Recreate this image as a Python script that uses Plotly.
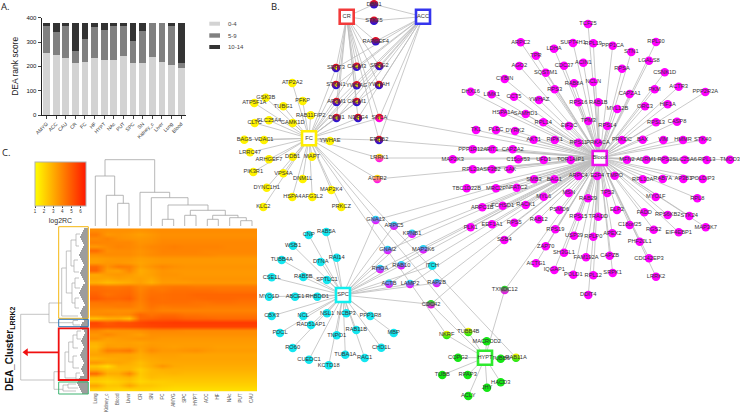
import plotly.graph_objects as go

W, H = 740, 413

# panel A
tissues = ['AMYG', 'ACC', 'CAU', 'CR', 'FC', 'HF', 'HYPT', 'NAc', 'PUT', 'SPC', 'SN', 'Kidney_c', 'Liver', 'Lung', 'Blood']
rank_low = [253, 247, 236, 215, 218, 233, 226, 225, 241, 214, 212, 238, 218, 205, 192]
rank_mid = [113, 93, 135, 47, 93, 129, 123, 141, 130, 90, 132, 141, 161, 159, 23]
rank_high = [13, 39, 8, 117, 68, 17, 30, 13, 8, 75, 35, 0, 0, 15, 164]
rank_names = ['0-4', '5-9', '10-14']

# panel C heatmap, one row per band of the picture
heat_cols = ['Lung', 'Kidney_c', 'Blood', 'Liver', 'CR', 'SN', 'FC', 'AMYG', 'SPC', 'HYPT', 'ACC', 'HF', 'NAc', 'PUT', 'CAU']
heat_rows = [
    [3.8, 3.7, 3.7, 3.7, 3.6, 3.7, 3.8, 3.8, 3.8, 3.8, 3.8, 3.8, 3.8, 3.8, 3.8],
    [4.2, 3.5, 3.6, 3.5, 3.3, 3.5, 3.7, 3.7, 3.7, 3.7, 3.7, 3.7, 3.7, 3.7, 3.7],
    [3.8, 4.0, 3.7, 3.6, 3.5, 3.6, 3.8, 3.8, 3.8, 3.8, 3.8, 3.8, 3.8, 3.8, 3.8],
    [4.0, 3.9, 3.9, 3.9, 3.6, 3.7, 3.9, 3.9, 3.9, 3.9, 3.9, 3.9, 3.9, 3.9, 3.9],
    [3.5, 3.8, 4.0, 3.9, 3.7, 3.9, 4.0, 4.1, 4.0, 4.0, 4.0, 4.0, 3.9, 3.9, 3.9],
    [4.6, 3.7, 3.8, 3.8, 3.6, 3.8, 4.0, 4.0, 4.0, 4.0, 3.9, 3.9, 3.9, 3.9, 3.9],
    [3.7, 3.8, 3.8, 3.8, 3.6, 3.8, 3.9, 3.9, 3.9, 3.9, 3.9, 3.8, 3.8, 3.8, 3.8],
    [3.3, 3.4, 3.5, 3.5, 3.3, 3.4, 3.5, 3.5, 3.5, 3.5, 3.5, 3.5, 3.5, 3.5, 3.5],
    [3.3, 3.5, 3.5, 3.4, 3.2, 3.4, 3.5, 3.5, 3.5, 3.5, 3.5, 3.5, 3.5, 3.5, 3.5],
    [4.6, 3.6, 4.2, 4.1, 3.3, 3.6, 3.9, 3.7, 3.6, 3.6, 3.6, 3.6, 3.6, 3.6, 3.6],
    [4.7, 3.3, 3.2, 3.9, 3.0, 3.3, 3.6, 3.5, 3.5, 3.5, 3.5, 3.5, 3.5, 3.5, 3.5],
    [3.1, 3.4, 3.5, 3.4, 3.1, 3.3, 3.6, 3.6, 3.5, 3.5, 3.5, 3.5, 3.5, 3.5, 3.5],
    [3.2, 3.1, 3.3, 3.2, 3.3, 3.1, 3.5, 3.5, 3.6, 3.6, 3.6, 3.6, 3.6, 3.6, 3.6],
    [2.9, 2.6, 2.8, 3.0, 3.3, 2.9, 3.4, 3.4, 3.4, 3.5, 3.5, 3.5, 3.5, 3.5, 3.5],
    [4.5, 4.3, 4.3, 4.4, 3.9, 4.1, 4.2, 4.3, 4.3, 4.2, 4.2, 4.2, 4.2, 4.2, 4.2],
    [4.6, 4.5, 4.5, 4.6, 4.0, 4.4, 4.3, 4.5, 4.5, 4.5, 4.5, 4.4, 4.4, 4.4, 4.4],
    [4.8, 4.4, 4.6, 4.7, 4.1, 4.5, 4.5, 4.6, 4.6, 4.7, 4.7, 4.7, 4.7, 4.7, 4.7],
    [5.0, 4.7, 4.7, 4.9, 4.1, 4.6, 4.5, 4.6, 4.6, 4.6, 4.7, 4.7, 4.7, 4.6, 4.6],
    [4.3, 4.4, 4.3, 4.4, 4.0, 4.5, 4.5, 4.5, 4.5, 4.4, 4.4, 4.5, 4.5, 4.4, 4.4],
    [4.1, 4.1, 4.2, 4.2, 3.9, 4.4, 4.2, 4.3, 4.3, 4.3, 4.2, 4.2, 4.2, 4.2, 4.2],
    [3.8, 3.7, 3.7, 3.7, 3.9, 4.2, 4.0, 4.0, 4.0, 4.0, 4.0, 4.0, 4.0, 4.0, 4.0],
    [3.8, 3.9, 3.8, 3.9, 4.7, 4.4, 4.6, 4.6, 4.4, 4.4, 4.3, 4.3, 4.3, 4.3, 4.3],
    [2.5, 2.9, 3.0, 2.5, 4.7, 4.8, 5.0, 5.0, 4.8, 4.7, 4.7, 4.6, 4.6, 4.6, 4.6],
    [5.5, 5.0, 5.3, 5.3, 5.5, 5.7, 5.7, 5.8, 5.8, 5.8, 5.8, 5.8, 5.8, 5.8, 5.8],
    [5.3, 5.2, 5.2, 5.3, 5.4, 5.5, 5.6, 5.6, 5.6, 5.6, 5.6, 5.6, 5.6, 5.6, 5.6],
    [3.9, 3.5, 3.6, 3.6, 3.7, 3.9, 3.9, 3.9, 3.8, 3.8, 3.8, 3.8, 3.8, 3.8, 3.8],
    [3.5, 3.9, 3.6, 3.5, 3.3, 3.7, 3.7, 3.7, 3.7, 3.7, 3.7, 3.7, 3.7, 3.7, 3.7],
    [3.7, 3.3, 3.4, 3.5, 3.6, 3.6, 3.5, 3.5, 3.5, 3.5, 3.5, 3.5, 3.5, 3.5, 3.5],
    [2.9, 3.2, 3.3, 3.3, 3.2, 3.4, 3.4, 3.4, 3.4, 3.4, 3.4, 3.4, 3.4, 3.4, 3.4],
    [2.7, 3.4, 3.3, 3.4, 3.3, 3.5, 3.4, 3.3, 3.4, 3.4, 3.4, 3.3, 3.3, 3.3, 3.3],
    [3.0, 4.1, 4.1, 4.3, 3.2, 3.8, 3.5, 3.5, 3.6, 3.7, 3.5, 3.4, 3.4, 3.4, 3.4],
    [3.2, 3.3, 3.2, 3.2, 3.0, 3.3, 3.3, 3.3, 3.2, 3.2, 3.2, 3.2, 3.2, 3.2, 3.2],
    [2.8, 3.0, 3.1, 3.2, 2.9, 3.1, 3.2, 3.2, 3.2, 3.2, 3.2, 3.2, 3.2, 3.2, 3.2],
    [3.5, 3.1, 3.2, 3.0, 2.6, 3.0, 3.1, 3.1, 3.1, 3.1, 3.1, 3.1, 3.1, 3.1, 3.1],
    [2.3, 1.8, 2.8, 2.8, 2.6, 3.0, 3.6, 3.1, 3.0, 3.0, 3.0, 3.0, 3.0, 3.0, 3.0],
    [3.0, 2.6, 2.7, 2.8, 2.2, 2.7, 2.9, 2.9, 2.9, 2.9, 2.9, 2.9, 2.9, 2.9, 2.9],
    [4.6, 3.0, 3.0, 3.9, 2.3, 2.7, 2.7, 2.8, 2.7, 2.7, 2.7, 2.7, 2.7, 2.7, 2.7],
    [2.6, 2.4, 2.6, 2.8, 2.2, 2.6, 2.5, 2.5, 2.5, 2.5, 2.5, 2.5, 2.5, 2.5, 2.5],
    [2.2, 2.0, 2.2, 2.5, 2.0, 2.2, 2.2, 2.3, 2.3, 2.3, 2.3, 2.3, 2.3, 2.3, 2.3],
    [3.2, 2.4, 2.4, 3.2, 2.4, 2.4, 2.2, 2.1, 2.1, 2.1, 2.1, 2.1, 2.1, 2.1, 2.1],
    [2.2, 2.1, 2.0, 2.0, 2.1, 2.0, 1.9, 1.8, 1.8, 1.8, 1.8, 1.8, 1.8, 1.8, 1.8],
]

# column dendrogram: left x, right x, top y, left foot y, right foot y
col_tree = [
    (117.7, 129, 203.3, 226, 226),
    (106.3, 123.3, 195.3, 226, 203.3),
    (95.3, 114.7, 176, 226, 195.3),
    (162.3, 173.7, 219.3, 226, 226),
    (184.7, 196, 215.3, 226, 226),
    (207.3, 218.3, 219.3, 226, 226),
    (240.7, 252, 220.7, 226, 226),
    (229.7, 246.3, 217.7, 226, 220.7),
    (212.7, 238, 215.3, 219.3, 217.7),
    (190.3, 225.3, 210.3, 215.3, 215.3),
    (168, 208, 205, 219.3, 210.3),
    (151.3, 188, 197.7, 226, 205),
    (140, 169.7, 192.3, 226, 197.7),
    (105, 154.7, 159.7, 176, 192.3),
]

# row dendrogram: parent x, upper y, upper x, lower y, lower x
row_tree = [
    (20.7, 314.3, 49, 380, 54),
    (49, 303, 61.7, 322.7, 73),
    (54, 371.7, 65, 389.3, 63),
    (61.7, 268, 66.3, 316, 78),
    (66.3, 251, 71, 293, 72),
    (71, 240, 76, 266, 74),
    (76, 234, 80, 246, 79),
    (74, 260, 78, 272, 79),
    (72, 283, 75, 303, 75),
    (75, 278, 79, 288, 80),
    (75, 298, 79, 308, 79),
    (73, 320.5, 78, 325, 80),
    (65, 352, 68.7, 378, 76),
    (68.7, 342, 73, 362, 73),
    (73, 335, 77, 348, 78),
    (77, 331, 81, 339, 81),
    (73, 356, 77, 368, 79),
    (76, 373, 80, 379, 82),
    (63, 385, 68, 391, 76),
    (68, 384, 76, 388, 78),
]
tip_start = [
    84, 83, 82, 81, 80, 81, 82, 83, 84, 83, 82, 81, 80, 79, 80, 81, 82, 83, 84, 83,
    82, 81, 80, 81, 82, 83, 84, 85, 83, 82, 81, 80, 79, 80, 81, 82, 83, 84, 85, 83,
    82, 81, 80, 81, 82, 83, 84, 82, 81, 80, 82, 84, 85, 84, 83, 82, 81, 82, 83, 84,
    83, 82, 81, 80, 81, 82, 83, 84, 83, 82, 81, 82, 83, 84, 80, 79, 78, 77, 78, 79,
    80, 81, 82,
]
tip_first_y, tip_step = 229, 2

# panel B hubs
hub_names = ['CR', 'ACC', 'FC', 'Blood', 'SPC', 'HYPT']
hub_x = [346.7, 423, 309, 599.7, 343, 485]
hub_y = [16.7, 16.7, 138.3, 158, 295, 357.7]

fc_names = ['ATP2A2', 'GSK3B', 'PFKP', 'ATP5F1A', 'TUBG1', 'RAB11FIP2', 'SLC25A4', 'CAMK1D', 'CLTC', 'BAG5', 'VDAC1', 'YWHAE',
            'LRRC47', 'ARHGEF7', 'DDB1', 'MAPT', 'PIK3R1', 'VPS4A', 'DNM1L', 'DYNC1H1', 'HSPA4', 'AFG3L2', 'MAP2K4', 'KLC2', 'PRKCZ']
fc_x = [292.3, 265.7, 302.7, 254.3, 283.3, 310.7, 269, 292.7, 254.7, 244.3, 264, 330,
        250, 269, 292.7, 312, 253.3, 283.3, 302.7, 266.7, 292.3, 312.3, 331.3, 263.3, 341.3]
fc_y = [83, 97.7, 101, 103, 106.3, 115.3, 120.3, 123, 123, 139.7, 140, 141,
        152.3, 159.3, 156.7, 156.7, 172, 173.3, 179, 187.7, 197, 197, 190, 207, 207]

blood_names = ['DHX16', 'LIMK1', 'HSPA1A', 'TK1', 'PLEC', 'DYRK2', 'PPP1R12A', 'RIT1', 'CAPZA2', 'MAP2K3', 'C15orf53', 'RPL23A', 'SF3B2', 'GAK',
               'TBC1D22B', 'MRC2P', 'NFATC2', 'SMB3', 'BAG1', 'ARPC1B', 'FCHSD1', 'RACK1', 'MYL6', 'PSMD6', 'RAB12', 'RPS19', 'PLK1', 'EEF1A1', 'RPS5',
               'SSB4', 'ZAP70', 'ACTG1', 'IQGAP1', 'SH3GL1', 'TCF25', 'ARPC2', 'LDHA', 'SUPT4H1', 'RPL19', 'PPP1CA', 'RPL30', 'STN1', 'TPR', 'CDC37',
               'ACIN1', 'LGALS8', 'AGO2', 'SQSTM1', 'RPSA', 'CSNK1D', 'CYBIN', 'RAB8A', 'NCLN', 'ACTR3', 'RPS3', 'PKM', 'CAPZA1', 'PPP2R2A', 'CCT5',
               'YWHAZ', 'RPS16', 'RAB1B', 'ORC3', 'HIF1A', 'MYL12B', 'SAMHD1', 'RPL14', 'TPM3', 'RPS14', 'RPS13', 'CASP8', 'EIF2C', 'AKT1', 'RIPK1',
               'RPS11', 'PRKACA', 'PRKDC', 'BAX', 'VIM', 'HMMR', 'STK40', 'UFD1', 'TOR1AIP1', 'MFN2', 'ADRM1', 'RPS2', 'SLC25A6', 'RPL13', 'TMOD3',
               'ARPC4', 'E2F4', 'TMPO', 'RPL10A', 'RAB7A', 'AP3B1', 'POLDIP3', 'MSN', 'RAB29', 'TP53', 'MYO1F', 'RPL8', 'ELP2', 'RPS15', 'TRADD',
               'FADD', 'RPS6KB2', 'STK24', 'MAP3K7', 'C18orf25', 'RGS2', 'EIF4EBP1', 'USP39', 'RPLP0', 'APEX2', 'PHF20L1', 'CAPZB', 'FAM192A',
               'CDC42EP3', 'SRPK1', 'POLD1', 'RPL12', 'LRRK2', 'DDIT4']
blood_x = [470.7, 491.7, 503.3, 476, 496, 515, 472.7, 492.3, 512.7, 452.7, 518.3, 472.7, 492, 510,
           466.7, 496, 516.7, 534, 554.3, 482.3, 502.7, 525.7, 543.7, 559.3, 538.7, 555.3, 470.7, 492, 514.3,
           504.3, 545.7, 536, 554.3, 564, 588, 520.7, 554, 573, 593.3, 612.7, 656, 631.3, 536, 564,
           583.3, 649, 519.3, 545.7, 622, 664.7, 504.7, 574, 593.3, 678.7, 554.7, 654.7, 629.7, 705.3, 514,
           539, 578.3, 598.3, 645, 667.7, 617.3, 525.7, 543.3, 588.3, 607.3, 656, 677, 569, 533.7, 554.7,
           578.3, 598, 622, 642.7, 663.3, 683, 702.7, 543.7, 570.7, 627, 646.3, 665, 684.7, 706.7, 730,
           578.3, 597.3, 614.7, 642.7, 662.7, 683.3, 702.7, 568.7, 588, 607.3, 655.7, 697.3, 617, 578.3, 598.3,
           644.3, 667.7, 689.3, 705.7, 629.7, 653.7, 678.7, 574, 593.3, 612.3, 639.7, 609.7, 586,
           649, 612.7, 573.3, 593.3, 656, 588.3]
blood_y = [91.7, 94.3, 112.7, 130, 130, 131, 149.3, 149.3, 149.3, 159.3, 159.3, 169.3, 169.3, 169.3,
           188.3, 188.3, 187.7, 179.3, 179.3, 207.3, 205.7, 205, 196.7, 210, 219.3, 229.3, 227.3, 224.3, 222.7,
           240, 246.3, 263.3, 270, 252.7, 24, 42.3, 48.7, 43, 43.3, 45.7, 42, 52, 55.7, 65.7,
           62.7, 60.7, 66, 72.7, 68.7, 72.3, 79, 83.3, 82, 86.7, 89.3, 89.3, 94, 92, 96.7,
           100, 102.3, 102.3, 106.3, 104.3, 109, 114, 122.3, 121, 126, 122.3, 121.7, 126, 139.7, 140,
           142.7, 142.7, 140, 139.7, 140, 140, 140, 160, 160, 159.7, 159.7, 159.7, 159.7, 160, 159.7,
           176, 176, 175.7, 179.3, 179, 179, 179, 193, 198.3, 193, 197, 198.3, 210, 216.7, 216.7,
           212.3, 215, 216, 227.3, 225, 229.7, 232.3, 235.7, 236.7, 233.3, 241.7, 255.7, 257.3,
           258.3, 273, 274.7, 275.3, 276.7, 295]

spc_names = ['CNP', 'RAB5A', 'WSB1', 'RAI14', 'DTNA', 'TUBB4A', 'CSE1L', 'RAB5B', 'SPTLC1', 'MYO1D', 'ABCE1', 'RHBDD1', 'CBX3', 'NCL',
             'NSL1', 'NCBP3', 'PPP1R8', 'RAD51AP1', 'RAB11B', 'TNPO1', 'MBP', 'PDCL', 'RO60', 'CHD1L', 'TUBA1A', 'RAC1', 'CUEDC1', 'KCTD18', 'ITCH']
spc_x = [308.7, 326.3, 293, 336.7, 320.7, 281.7, 271.7, 303.3, 327, 269, 295, 317.3, 271.7, 303.3,
         327, 346.3, 370.3, 311, 356.3, 336.7, 393.7, 280, 292.7, 381.3, 345.3, 364.7, 309, 328.7, 432.3]
spc_y = [235, 232, 245.7, 257.7, 262, 260, 277.3, 277, 280, 296.7, 296.7, 296.7, 316, 316,
         313.3, 313.3, 316, 325, 330, 335.3, 333, 333, 348, 347.7, 354.7, 358, 359.7, 365.3, 265.7]

hypt_names = ['MACROD2', 'COPG2', 'TUBB6', 'TUBB', 'RPAP3', 'HACD3', 'JHY', 'ACLY']
hypt_x = [486.7, 458, 500.7, 442.3, 467.7, 500.7, 487, 468.3]
hypt_y = [341.3, 357.7, 358.7, 375, 375, 382.3, 387.7, 396]

# genes seen in several tissues, hubs listed top colour first, bottom colour last
shared_names = ['DBN1', 'STK25', 'RAPGEF4', 'SEPT3', 'CALM3', 'SPAG2', 'STMN1', 'YWHAG', 'YWHAH', 'AP3M1', 'CALM1', 'DNM1', 'NDRG4',
                'SNCA', 'ERBB2', 'LRRK1', 'ACTR2', 'GNA13', 'ARPC5', 'KPNB1', 'MAP2K6', 'GNAI2', 'RHOA', 'RAB10', 'ACTB', 'LAMP2', 'RAP2B',
                'CDC42', 'NKRF', 'TUBB4B', 'RAB11A', 'TXNDC12']
shared_x = [374, 374, 375.7, 336, 356.7, 379.3, 336, 356.7, 379, 336.5, 356.7, 336.5, 358,
            379.3, 379, 379.3, 377.3, 375.7, 394, 412, 423.3, 387.7, 380, 401.3, 389, 410, 436.7,
            431, 446.7, 468.3, 516, 504.7]
shared_y = [4.3, 20.7, 41.3, 68, 66.7, 66, 85, 85.3, 85, 102, 102, 118, 118,
            118, 140, 158, 179, 220, 225.7, 233.7, 249.3, 250, 269, 265.3, 283.7, 284, 283,
            304.3, 335, 332, 357.7, 290]
shared_hubs = [['CR', 'ACC'], ['CR', 'ACC'], ['CR', 'ACC'],
               ['CR', 'FC', 'ACC'], ['CR', 'FC', 'ACC'], ['CR', 'FC', 'ACC'], ['CR', 'FC', 'ACC'], ['CR', 'FC', 'ACC'],
               ['CR', 'FC', 'ACC'], ['CR', 'FC', 'ACC'], ['CR', 'FC', 'ACC'], ['CR', 'FC', 'ACC'], ['CR', 'FC', 'ACC'],
               ['CR', 'ACC', 'FC', 'Blood'], ['CR', 'FC', 'Blood', 'ACC'], ['FC', 'Blood'], ['FC', 'Blood'],
               ['SPC', 'Blood'], ['SPC', 'Blood'], ['SPC', 'Blood'], ['SPC', 'Blood'], ['SPC', 'Blood'], ['SPC', 'Blood'],
               ['SPC', 'Blood'], ['SPC', 'Blood'], ['SPC', 'Blood'], ['SPC', 'Blood'],
               ['HYPT', 'SPC', 'Blood'], ['FC', 'HYPT'], ['FC', 'HYPT'], ['FC', 'HYPT'], ['HYPT', 'Blood']]

arrow_x = [58.7, 26]
arrow_y = [352.3, 352.3]

HUB_COLOR = {'CR': '#f23a3a', 'ACC': '#3535ee', 'FC': '#ffee00', 'Blood': '#ee11ee', 'SPC': '#11eeee', 'HYPT': '#2eea2e'}
NODE_COLOR = {'CR': '#f01010', 'ACC': '#1414e6', 'FC': '#fff200', 'Blood': '#ff00ff', 'SPC': '#14e6f0', 'HYPT': '#14e614'}
EDGE_COLOR = '#bcbcbc'
LABEL = dict(family='Liberation Sans', size=5.7, color='#333333')

hub_pos = dict(zip(hub_names, zip(hub_x, hub_y)))


def edges(xs, ys, hub_lists):
    ex, ey = [], []
    for x, y, hubs in zip(xs, ys, hub_lists):
        for h in hubs:
            ex += [x, hub_pos[h][0], None]
            ey += [y, hub_pos[h][1], None]
    return ex, ey


def overlay_line(xs, ys, color, width):
    return go.Scatter(x=xs, y=ys, mode='lines', line=dict(color=color, width=width), xaxis='x3', yaxis='y3',
                      hoverinfo='skip', showlegend=False)


traces = []

for name, vals, col in zip(rank_names, [rank_low, rank_mid, rank_high], ['#d3d3d3', '#808080', '#333333']):
    traces.append(go.Bar(x=tissues, y=vals, name=name, marker=dict(color=col, line=dict(width=0)), width=0.7, showlegend=False))

traces.append(go.Heatmap(
    z=heat_rows, x=heat_cols, xaxis='x2', yaxis='y2', zmin=1, zmax=6.6, zsmooth='best',
    colorscale=[[0, '#ffff00'], [1, '#ff1800']],
    colorbar=dict(orientation='h', x=35 / W, xanchor='left', y=1 - 162 / H, yanchor='top', thickness=44,
                  lenmode='pixels', len=50.7, xpad=0, ypad=0, outlinecolor='#b0b0b0', outlinewidth=1,
                  tickvals=[1, 2, 3, 4, 5, 6], ticks='outside', ticklen=2, tickwidth=0.6, tickcolor='#444444',
                  tickfont=dict(family='Liberation Sans', size=4.5, color='#333333'),
                  title=dict(text='log2RC', side='bottom', font=dict(family='Liberation Sans', size=7, color='#333333'))),
))

# dendrograms
dx, dy = [], []
for xl, xr, top, fl, fr in col_tree:
    dx += [xl, xl, xr, xr, None]
    dy += [fl, top, top, fr, None]
traces.append(overlay_line(dx, dy, '#a4a4a4', 0.8))
dx, dy = [], []
for xp, yu, xu, yl, xl in row_tree:
    dx += [xu, xp, xp, xl, None]
    dy += [yu, yu, yl, yl, None]
traces.append(overlay_line(dx, dy, '#aaaaaa', 0.7))
dx, dy = [], []
for i, start in enumerate(tip_start):
    y = tip_first_y + i * tip_step
    dx += [start, 88, None]
    dy += [y, y, None]
traces.append(overlay_line(dx, dy, '#7c7c7c', 1.5))

# network edges
groups = [(fc_x, fc_y, [['FC']] * len(fc_x)), (blood_x, blood_y, [['Blood']] * len(blood_x)),
          (spc_x, spc_y, [['SPC']] * len(spc_x)), (hypt_x, hypt_y, [['HYPT']] * len(hypt_x)),
          (shared_x, shared_y, shared_hubs)]
ex, ey = [], []
for xs, ys, hl in groups:
    gx, gy = edges(xs, ys, hl)
    ex += gx
    ey += gy
traces.append(overlay_line(ex, ey, EDGE_COLOR, 0.8))

# plain nodes
for names, xs, ys, hub in [(fc_names, fc_x, fc_y, 'FC'), (blood_names, blood_x, blood_y, 'Blood'),
                           (spc_names, spc_x, spc_y, 'SPC'), (hypt_names, hypt_x, hypt_y, 'HYPT')]:
    traces.append(go.Scatter(x=xs, y=ys, text=names, mode='markers+text', textposition='middle center', textfont=LABEL,
                             marker=dict(size=8.5, color=NODE_COLOR[hub], line=dict(width=0)),
                             xaxis='x3', yaxis='y3', hoverinfo='text', showlegend=False))

# shared nodes, two colours by gradient and a yellow wedge where FC sits in the middle
traces.append(go.Scatter(x=shared_x, y=shared_y, mode='markers',
                         marker=dict(size=8.5, color=[NODE_COLOR[h[0]] for h in shared_hubs], line=dict(width=0),
                                     gradient=dict(type='vertical', color=[NODE_COLOR[h[-1]] for h in shared_hubs])),
                         xaxis='x3', yaxis='y3', hoverinfo='skip', showlegend=False))
mid_x = [x for x, h in zip(shared_x, shared_hubs) if 'FC' in h[1:-1]]
mid_y = [y for y, h in zip(shared_y, shared_hubs) if 'FC' in h[1:-1]]
traces.append(go.Scatter(x=mid_x, y=mid_y, mode='markers',
                         marker=dict(size=4, symbol='triangle-left', color=NODE_COLOR['FC'], line=dict(width=0)),
                         xaxis='x3', yaxis='y3', hoverinfo='skip', showlegend=False))
traces.append(go.Scatter(x=shared_x, y=shared_y, text=shared_names, mode='text', textposition='middle center', textfont=LABEL,
                         xaxis='x3', yaxis='y3', hoverinfo='text', showlegend=False))

# hubs
traces.append(go.Scatter(x=hub_x, y=hub_y, text=hub_names, mode='markers+text', textposition='middle center', textfont=LABEL,
                         marker=dict(symbol='square', size=14, color='white',
                                     line=dict(width=2.6, color=[HUB_COLOR[h] for h in hub_names])),
                         xaxis='x3', yaxis='y3', hoverinfo='text', showlegend=False))

# red arrow out of the red cluster box
traces.append(overlay_line(arrow_x, arrow_y, '#f01010', 1.8))
traces.append(go.Scatter(x=arrow_x[1:], y=arrow_y[1:], mode='markers', marker=dict(symbol='triangle-left', size=7, color='#f01010', line=dict(width=0)),
                         xaxis='x3', yaxis='y3', hoverinfo='skip', showlegend=False))

shapes = []
for y0, y1, col in [(21.7, 25.7, '#d3d3d3'), (33.3, 37.7, '#808080'), (45, 49, '#333333')]:
    shapes.append(dict(type='rect', xref='x3', yref='y3', x0=209.3, x1=220, y0=y0, y1=y1, fillcolor=col, line=dict(width=0)))
for y0, y1, col, lw in [(226.7, 318.3, '#f5b70f', 1), (319.3, 326.7, '#2e75b6', 1), (328.3, 380, '#f01010', 1.8), (382, 394, '#3cb371', 1)]:
    shapes.append(dict(type='rect', xref='x3', yref='y3', x0=58.7, x1=88.3, y0=y0, y1=y1, line=dict(color=col, width=lw)))

annotations = []
for txt, y in zip(rank_names, [23.7, 35.5, 47]):
    annotations.append(dict(text=txt, x=226, y=y, xref='x3', yref='y3', xanchor='left', showarrow=False,
                            font=dict(family='Liberation Sans', size=6, color='#444444')))
for txt, x, y in [('A.', 5, 6), ('B.', 275, 6), ('C.', 6, 152)]:
    annotations.append(dict(text=txt, x=x, y=y, xref='x3', yref='y3', showarrow=False,
                            font=dict(family='Open Sans', size=9.5, color='#222222')))
annotations.append(dict(text='<b>DEA_Cluster<sub>LRRK2</sub></b>', x=10, y=349, xref='x3', yref='y3', textangle=-90, showarrow=False,
                        font=dict(family='Liberation Sans', size=10, color='#111111')))

layout = go.Layout(
    width=W, height=H, margin=dict(l=0, r=0, t=0, b=0, autoexpand=False), autosize=False,
    paper_bgcolor='white', plot_bgcolor='rgba(0,0,0,0)', barmode='stack', showlegend=False,
    xaxis=dict(domain=[41.7 / W, 186 / W], anchor='y', showgrid=False, zeroline=False, showline=True, linecolor='#222222', linewidth=1.2,
               ticks='outside', ticklen=3, tickwidth=1, tickangle=-45, tickfont=dict(family='Liberation Sans', size=5, color='#333333'),
               categoryorder='array', categoryarray=tissues, fixedrange=True),
    yaxis=dict(domain=[1 - 115 / H, 1 - 17.7 / H], anchor='x', range=[0, 400], showgrid=False, zeroline=False, showline=True,
               linecolor='#222222', linewidth=1.2, ticks='outside', ticklen=3, tickwidth=1, tickvals=[0, 100, 200, 300, 400],
               tickfont=dict(family='Liberation Sans', size=6, color='#111111'),
               title=dict(text='DEA rank score', standoff=6, font=dict(family='Liberation Sans', size=8.5, color='#222222')), fixedrange=True),
    xaxis2=dict(domain=[90 / W, 257 / W], anchor='y2', showgrid=False, zeroline=False, ticks='', tickangle=-90,
                tickfont=dict(family='Liberation Sans', size=4.5, color='#555555'), fixedrange=True),
    yaxis2=dict(domain=[1 - 391.7 / H, 1 - 228.3 / H], anchor='x2', autorange='reversed', showgrid=False, zeroline=False,
                showticklabels=False, ticks='', fixedrange=True),
    xaxis3=dict(domain=[0, 1], range=[0, W], anchor='y3', visible=False, fixedrange=True),
    yaxis3=dict(domain=[0, 1], range=[H, 0], anchor='x3', visible=False, fixedrange=True),
    shapes=shapes, annotations=annotations,
)

fig = go.Figure(data=traces, layout=layout)
fig.write_html("out.html", post_script="document.body.style.margin='0';", config=dict(displayModeBar=False))
